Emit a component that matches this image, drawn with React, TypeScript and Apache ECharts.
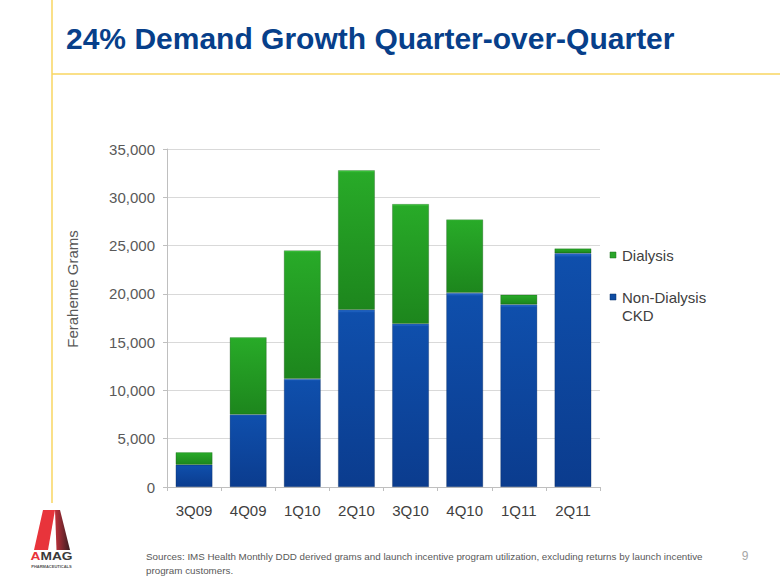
import React, { useEffect, useRef } from 'react';
import * as echarts from 'echarts';

const categories = ['3Q09', '4Q09', '1Q10', '2Q10', '3Q10', '4Q10', '1Q11', '2Q11'];
const nonDialysisCKD = [2300, 7500, 11200, 18350, 16900, 20100, 18900, 24200];
const dialysis = [1300, 8000, 13300, 14450, 12400, 7600, 1000, 500];
const seriesNames = ['Non-Dialysis CKD', 'Dialysis'];
const legendLabels = ['Dialysis', 'Non-Dialysis\nCKD'];
const yMin = 0;
const yMax = 35000;
const yInterval = 5000;
const titleText = '24% Demand Growth Quarter-over-Quarter';
const yAxisTitle = 'Feraheme Grams';
const footnoteLines = [
  'Sources: IMS Health Monthly DDD derived grams and launch incentive program utilization, excluding returns by launch incentive',
  'program customers.',
];
const pageNumber = '9';

const FONT = '"Liberation Sans", Arial, Helvetica, sans-serif';

const blueFill = {
  type: 'linear', x: 0, y: 0, x2: 0, y2: 1,
  colorStops: [
    { offset: 0, color: '#2a6fd0' },
    { offset: 0.015, color: '#0f4fac' },
    { offset: 1, color: '#0b3c8e' },
  ],
};
const greenFill = {
  type: 'linear', x: 0, y: 0, x2: 0, y2: 1,
  colorStops: [
    { offset: 0, color: '#45d045' },
    { offset: 0.015, color: '#28aa28' },
    { offset: 1, color: '#1d861d' },
  ],
};

export default function App() {
  const ref = useRef<HTMLDivElement>(null);

  useEffect(() => {
    document.body.style.margin = '0';
    if (!ref.current) return;
    const chart = echarts.init(ref.current, null, { renderer: 'svg' });
    const option: any = {
      animation: false,
      backgroundColor: '#ffffff',
      grid: { left: 167, right: 180, top: 149, bottom: 98, containLabel: false },
      xAxis: {
        type: 'category',
        data: categories,
        axisLine: { show: true, lineStyle: { color: '#bfbfbf', width: 1 } },
        axisTick: { show: true, length: 4, lineStyle: { color: '#bfbfbf' } },
        axisLabel: { color: '#404040', fontSize: 15, fontFamily: FONT, margin: 16 },
      },
      yAxis: {
        type: 'value',
        min: yMin,
        max: yMax,
        interval: yInterval,
        axisLine: { show: true, lineStyle: { color: '#bfbfbf', width: 1 } },
        axisTick: { show: true, inside: false, length: 4, lineStyle: { color: '#bfbfbf' } },
        axisLabel: {
          color: '#595959',
          fontSize: 15,
          fontFamily: FONT,
          margin: 12,
          formatter: (v: number) => v.toLocaleString('en-US'),
        },
        splitLine: { show: true, lineStyle: { color: '#d9d9d9', width: 1 } },
      },
      series: [
        {
          name: seriesNames[0],
          type: 'bar',
          stack: 'total',
          data: nonDialysisCKD,
          barCategoryGap: '32%',
          itemStyle: { color: blueFill, borderColor: 'rgba(5,30,70,0.45)', borderWidth: 0.6 },
        },
        {
          name: seriesNames[1],
          type: 'bar',
          stack: 'total',
          data: dialysis,
          barCategoryGap: '32%',
          itemStyle: { color: greenFill, borderColor: 'rgba(10,60,10,0.45)', borderWidth: 0.6 },
        },
      ],
      graphic: [
        { type: 'line', shape: { x1: 52, y1: 0, x2: 52, y2: 503 }, style: { stroke: '#f8d660', lineWidth: 1.5 }, silent: true },
        { type: 'line', shape: { x1: 52, y1: 74, x2: 780, y2: 74 }, style: { stroke: '#f8d660', lineWidth: 1.5 }, silent: true },
        {
          type: 'text', x: 66, y: 38,
          style: { text: titleText, fill: '#073f8a', font: `bold 30px ${FONT}`, textAlign: 'left', textVerticalAlign: 'middle' },
        },
        {
          type: 'text', x: 72, y: 289, rotation: Math.PI / 2,
          style: { text: yAxisTitle, fill: '#595959', font: `15px ${FONT}`, textAlign: 'center', textVerticalAlign: 'middle' },
        },
        { type: 'rect', shape: { x: 610, y: 252, width: 6, height: 6 }, style: { fill: '#2aa52a', stroke: '#1d6e1d', lineWidth: 0.5 } },
        {
          type: 'text', x: 622, y: 255.5,
          style: { text: legendLabels[0], fill: '#404040', font: `15px ${FONT}`, textAlign: 'left', textVerticalAlign: 'middle' },
        },
        { type: 'rect', shape: { x: 610, y: 294, width: 6, height: 6 }, style: { fill: '#0e4ca3', stroke: '#072d66', lineWidth: 0.5 } },
        {
          type: 'text', x: 622, y: 288,
          style: { text: legendLabels[1], fill: '#404040', font: `15px ${FONT}`, lineHeight: 18, textAlign: 'left', textVerticalAlign: 'top' },
        },
        {
          type: 'text', x: 146, y: 550,
          style: { text: footnoteLines.join('\n'), fill: '#595959', font: `9.8px ${FONT}`, lineHeight: 13.5, textAlign: 'left', textVerticalAlign: 'top' },
        },
        {
          type: 'text', x: 745, y: 556,
          style: { text: pageNumber, fill: '#a6a6a6', font: `12px ${FONT}`, textAlign: 'center', textVerticalAlign: 'middle' },
        },
        {
          type: 'polygon',
          shape: { points: [[43, 510], [55, 510], [48, 550], [34, 550]] },
          style: { fill: '#e8343b' },
        },
        {
          type: 'polygon',
          shape: { points: [[55, 510], [60, 510], [70, 550], [56.5, 550]] },
          style: {
            fill: {
              type: 'linear', x: 0, y: 0, x2: 1, y2: 0,
              colorStops: [
                { offset: 0, color: '#c0303a' },
                { offset: 1, color: '#3a1e22' },
              ],
            },
          },
        },
        {
          type: 'text', x: 51.5, y: 556.5, scaleX: 1.25,
          style: {
            text: '{r|A}{d|MAG}',
            textAlign: 'center', textVerticalAlign: 'middle',
            rich: {
              r: { fill: '#e8343b', font: `bold 11px ${FONT}` },
              d: { fill: '#3a3a3a', font: `bold 11px ${FONT}` },
            },
          },
        },
        {
          type: 'text', x: 51.5, y: 566.5,
          style: { text: 'PHARMACEUTICALS', fill: '#555555', font: `bold 4px ${FONT}`, textAlign: 'center', textVerticalAlign: 'middle' },
        },
      ],
    };
    chart.setOption(option);
    return () => chart.dispose();
  }, []);

  return <div ref={ref} style={{ position: 'fixed', left: 0, top: 0, width: 780, height: 585 }} />;
}
